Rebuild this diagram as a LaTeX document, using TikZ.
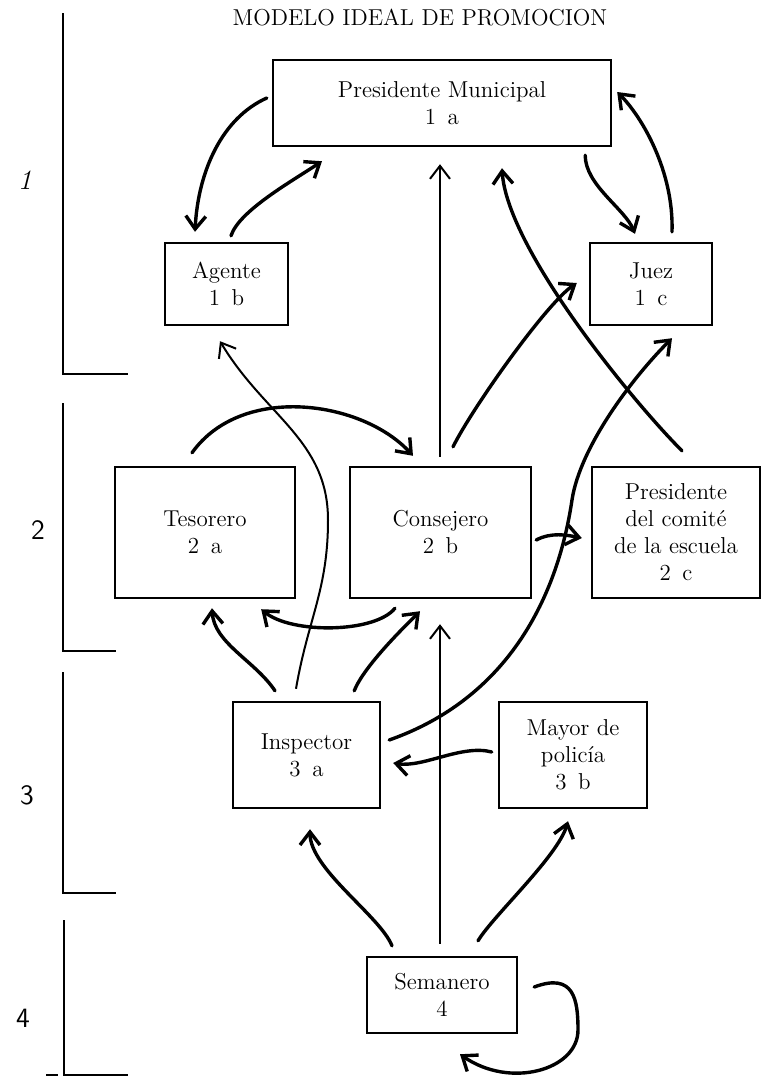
\documentclass[tikz,border=0pt]{standalone}
\usepackage{xcolor}
\usepackage{tikz}
\usetikzlibrary{positioning,arrows.meta}

\begin{document}
\begin{tikzpicture}[x=0.5pt, y=-0.5pt,
  box/.style={draw, line width=1.2pt, align=center, inner sep=0pt, font=\fontsize{11.5}{13.5}\selectfont},
  link/.style={line width=1.7pt, line cap=round, -{Straight Barb[length=6.5pt,width=10pt]}},
  thinlink/.style={line width=1pt, -{Straight Barb[length=6.5pt,width=10pt]}},
  level/.style={line width=1.2pt},
  levelnum/.style={font=\fontsize{14}{16}\selectfont}]
\useasboundingbox (0,0) rectangle (762,1084);

\node[font=\fontsize{11.5}{13.5}\selectfont] (title) at (420,18) {MODELO IDEAL DE PROMOCION};

% level 1
\node[box, minimum width=169pt, minimum height=43pt] (pres_mun) at (442,103) {Presidente Municipal\\1\enspace a};
\node[box, minimum width=61.5pt, minimum height=41pt] (agente) at (226.5,284) {Agente\\1\enspace b};
\node[box, minimum width=61pt, minimum height=41pt] (juez) at (651,284) {Juez\\1\enspace c};

% level 2
\node[box, minimum width=90pt, minimum height=65.5pt] (tesorero) at (205,532.5) {Tesorero\\2\enspace a};
\node[box, minimum width=90.5pt, minimum height=65.5pt] (consejero) at (440.5,532.5) {Consejero\\2\enspace b};
\node[box, minimum width=84pt, minimum height=65.5pt] (pres_comite) at (676,532.5) {Presidente\\del comité\\de la escuela\\2\enspace c};

% level 3
\node[box, minimum width=73.5pt, minimum height=53pt] (inspector) at (306.5,755) {Inspector\\3\enspace a};
\node[box, minimum width=74pt, minimum height=53pt] (mayor) at (573,755) {Mayor de\\policía\\3\enspace b};

% level 4
\node[box, minimum width=75pt, minimum height=38pt] (semanero) at (442,995) {Semanero\\4};

% level brackets
\draw[level] (63,13) -- (63,374) -- (128,374);
\draw[level] (63,403) -- (63,651) -- (116,651);
\draw[level] (63,672) -- (63,893) -- (116,893);
\draw[level] (64,920) -- (64,1075) -- (128,1075);
\draw[level] (46,1075) -- (58,1075);
\node[levelnum] (lvl_1) at (25,180) {\itshape 1};
\node[levelnum] (lvl_2) at (38,530) {\sffamily 2};
\node[levelnum] (lvl_3) at (27,795) {\sffamily 3};
\node[levelnum] (lvl_4) at (23,1018) {\sffamily 4};

% connectors
\draw[link] ([shift={(-5,-5)}]pres_mun.west) .. controls +(-45,20) and +(3,-60) .. ([shift={(-31.5,-10)}]agente.north);
\draw[link] ([shift={(4.5,-6)}]agente.north) .. controls +(8,-25) and +(-30,20) .. ([shift={(-120,14)}]pres_mun.south);
\draw[thinlink] ([shift={(-0.5,-9)}]consejero.north) -- ([shift={(-2,17)}]pres_mun.south);
\draw[link] ([shift={(-27,8)}]pres_mun.south east) .. controls +(0,30) and +(-10,-25) .. ([shift={(-16,-8)}]juez.north);
\draw[link] ([shift={(21,-10)}]juez.north) .. controls +(2,-60) and +(25,25) .. ([shift={(5,-11)}]pres_mun.east);
\draw[link] ([shift={(12.5,-19)}]consejero.north) .. controls +(20,-40) and +(-30,20) .. ([shift={(-12,-1)}]juez.west);
\draw[link] ([shift={(6,-15)}]pres_comite.north) .. controls +(-50,-50) and +(5,80) .. ([shift={(60,21)}]pres_mun.south);
\draw[link] ([shift={(8,-15)}]inspector.east) .. controls +(142,-50) and +(-9,60) .. (572,500)
    .. controls +(8,-53) and +(-40,40) .. ([shift={(21,12)}]juez.south);
\draw[link] ([shift={(4,7.5)}]consejero.east) .. controls +(15,-8) and +(-15,-3) .. ([shift={(-9,5.5)}]pres_comite.west);
\draw[link] ([shift={(-13,-13)}]tesorero.north) .. controls +(50,-70) and +(-50,-55) .. ([shift={(-27.5,-10)}]consejero.north);
\draw[thinlink] ([shift={(-10.5,-12)}]inspector.north) .. controls +(12,-70) and +(0,70) .. (328,520)
    .. controls +(0,-80) and +(45,75) .. ([shift={(-6.5,15)}]agente.south);
\draw[link] ([shift={(-31.5,-10)}]inspector.north) .. controls +(-20,-30) and +(2,35) .. ([shift={(7,9)}]tesorero.south);
\draw[link] ([shift={(-45.5,9)}]consejero.south) .. controls +(-20,25) and +(30,25) .. ([shift={(-35,10)}]tesorero.south east);
\draw[link] ([shift={(-27,-10)}]inspector.north east) .. controls +(10,-25) and +(-15,15) .. ([shift={(-20.5,12)}]consejero.south);
\draw[thinlink] ([shift={(-2,-12)}]semanero.north) -- ([shift={(-0.5,25)}]consejero.south);
\draw[link] ([shift={(-6,-3)}]mayor.west) .. controls +(-30,-8) and +(30,5) .. ([shift={(12,8)}]inspector.east);
\draw[link] ([shift={(-50,-10)}]semanero.north) .. controls +(-12,-30) and +(0,40) .. ([shift={(3.5,20)}]inspector.south);
\draw[link] ([shift={(36,-15)}]semanero.north) .. controls +(15,-25) and +(-10,35) .. ([shift={(-5,12)}]mayor.south);
\draw[link] ([shift={(16,-8)}]semanero.east) .. controls +(40,-15) and +(0,-30) .. (578,1030)
    .. controls +(0,40) and +(50,35) .. ([shift={(18,20)}]semanero.south);

\end{tikzpicture}
\end{document}
